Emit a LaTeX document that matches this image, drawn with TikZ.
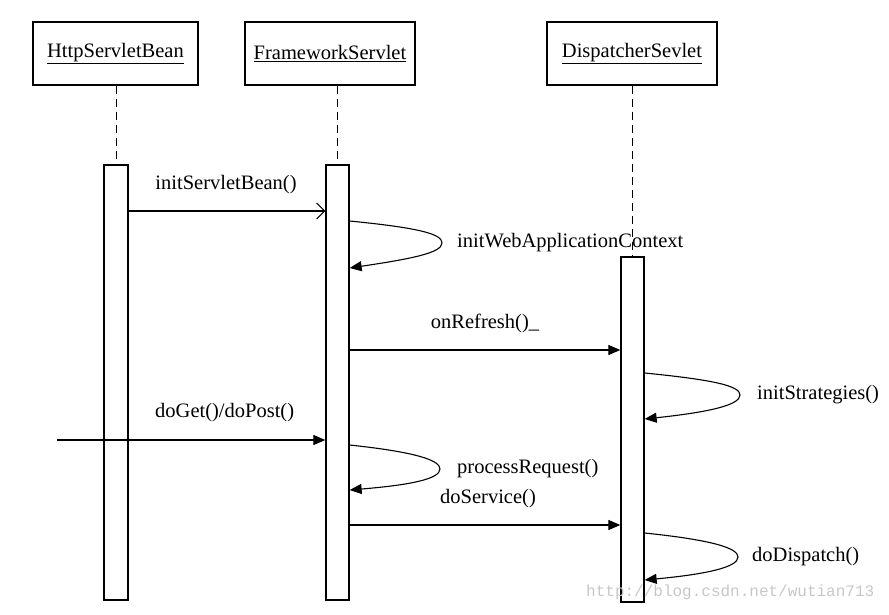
\documentclass[tikz,border=0pt]{standalone}
\usepackage{fontspec}
\setmainfont{Liberation Serif}
\setmonofont{Liberation Mono}
\usetikzlibrary{arrows.meta}
\begin{document}
\begin{tikzpicture}[x=1pt,y=-1pt,
  head/.style={draw, line width=1.5pt, minimum height=63pt, inner sep=0pt,
    font=\fontsize{20.5}{24}\selectfont},
  act/.style={draw, line width=1.3pt, fill=white, inner sep=0pt},
  life/.style={line width=0.9pt, dash pattern=on 8pt off 5pt},
  msg/.style={line width=1.1pt, -{Triangle[length=12pt,width=10pt]}},
  openmsg/.style={line width=1.1pt, -{Straight Barb[length=8pt,width=16pt,line width=1.1pt]}},
  lbl/.style={inner sep=0pt, font=\fontsize{20.5}{24}\selectfont}]
\useasboundingbox (0,0) rectangle (889,615);

% headers
\node[head, minimum width=165pt] (h1) at (115.5,53.5) {\underline{HttpServletBean}};
\node[head, minimum width=170pt] (h2) at (330,53.5) {\underline{FrameworkServlet}};
\node[head, minimum width=170pt] (h3) at (632,53.5) {\underline{DispatcherSevlet}};

% activation bars
\node[act, minimum width=24pt, minimum height=435pt] (a1) at (116,382.5) {};
\node[act, minimum width=23pt, minimum height=435pt] (a2) at (337.5,382.5) {};
\node[act, minimum width=23pt, minimum height=345pt] (a3) at (632.5,429.5) {};

% lifelines
\draw[life] (h1.south -| a1.north) -- (a1.north);
\draw[life] (h2.south -| a2.north) -- (a2.north);
\draw[life] (h3.south -| a3.north) -- (a3.north);

% initServletBean()
\draw[openmsg] (a1.east |- 0,211) -- (a2.west |- 0,211);
\node[lbl] (l1) at (226,185) {initServletBean()};

% initWebApplicationContext
\draw[msg] (a2.east |- 0,221) .. controls (420,228) and (442,234) .. (442,243)
  .. controls (442,253) and (410,259) .. (a2.east |- 0,268);
\node[lbl, anchor=west] (l2) at (457,243) {initWebApplicationContext};

% onRefresh()_
\draw[msg] (a2.east |- 0,350) -- (a3.west |- 0,350);
\node[lbl] (l3) at (485,323) {onRefresh()\_};

% initStrategies()
\draw[msg] (a3.east |- 0,373) .. controls (715,380) and (740,386) .. (740,395)
  .. controls (740,405) and (710,412) .. (a3.east |- 0,419);
\node[lbl, anchor=west] (l4) at (757,395) {initStrategies()};

% doGet()/doPost()
\coordinate (src) at (57,440);
\draw[msg] (src) -- (a2.west |- 0,440);
\node[lbl, anchor=west] (l5) at (155,413) {doGet()/doPost()};

% processRequest()
\draw[msg] (a2.east |- 0,445) .. controls (415,452) and (440,460) .. (440,469)
  .. controls (440,479) and (410,485) .. (a2.east |- 0,490);
\node[lbl, anchor=west] (l6) at (457,469) {processRequest()};

% doService()
\draw[msg] (a2.east |- 0,525) -- (a3.west |- 0,525);
\node[lbl, anchor=west] (l7) at (440,499) {doService()};

% doDispatch()
\draw[msg] (a3.east |- 0,533) .. controls (712,540) and (738,548) .. (738,557)
  .. controls (738,567) and (708,574) .. (a3.east |- 0,580);
\node[lbl, anchor=west] (l8) at (752,557) {doDispatch()};

% watermark
\node[inner sep=0pt, anchor=west, text=black!22, font=\ttfamily\fontsize{16}{18}\selectfont] (wm) at (586,592) {http://blog.csdn.net/wutian713};
\end{tikzpicture}
\end{document}
